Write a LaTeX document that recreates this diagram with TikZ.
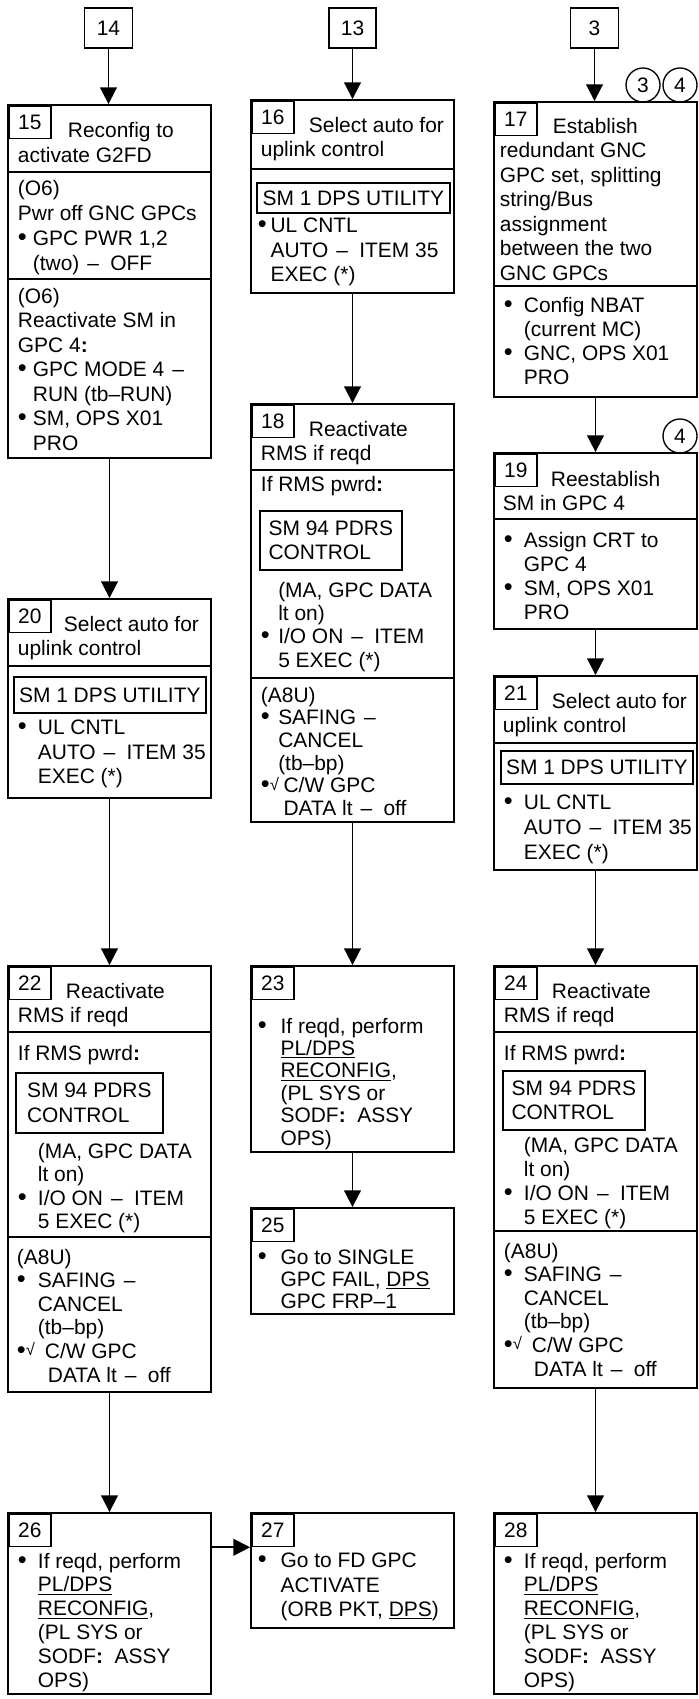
\documentclass[tikz,border=0pt]{standalone}
\usepackage{fontspec}
\setmainfont{Liberation Sans}
\usetikzlibrary{arrows.meta,fit}
\newcommand{\bdot}{{\fontsize{19}{19}\selectfont\textbullet}}
\newcommand{\bl}[1][15pt]{\makebox[#1][l]{\bdot}}
\newcommand{\ind}[1][15pt]{\hspace*{#1}}
\newcommand{\ck}[1][21pt]{\makebox[#1][l]{\bdot\raisebox{2pt}{\fontsize{12.5}{12.5}\selectfont √}}}
\newcommand{\dd}{\hspace{6pt}--\hspace{8.5pt}}
\tikzset{
  box/.style={draw,line width=1.4pt,inner sep=0pt},
  numbox/.style={draw,line width=1.2pt,inner sep=0pt,anchor=north west,minimum width=31.5pt,minimum height=24.5pt},
  scr/.style={draw,line width=1.2pt,inner sep=0pt,anchor=north west,align=left},
  txt/.style={anchor=north west,yshift=12pt,inner sep=0pt,align=left,execute at begin node=\rule{0pt}{12pt}},
  bs/.style={font=\fontsize{15.7}{#1}\selectfont},
  tag/.style={draw,circle,line width=1pt,inner sep=0pt,minimum size=25.5pt},
  flow/.style={line width=1.4pt,-{Triangle[length=12.5pt,width=12.5pt]}},
}

\begin{document}
\begin{tikzpicture}[x=0.75pt,y=-0.75pt,font=\fontsize{15.7}{18.4}\selectfont,line width=1.4pt]
\useasboundingbox (0,0) rectangle (699,1699);
% left column
\node[box,minimum width=36pt,minimum height=30pt] (b14) at (108.5,28) {14};
\node[box,fit={(8,105) (211,458)}] (b15) {};
\node[numbox] (n15) at (8,105) {15};
\node[txt,bs=18.75pt] (h15) at (17,137) {\hspace*{37.5pt}Reconfig to\\activate G2FD};
\foreach \yy in {172,279}{\draw (8,\yy) -- (211,\yy);}
\node[txt,bs=18.75pt] (p15a) at (17,195) {(O6)\\Pwr off GNC GPCs\\\bl[11.25pt]GPC PWR 1,2\\\ind[11.25pt](two)\dd OFF};
\node[txt] (p15b) at (17,303) {(O6)\\Reactivate SM in\\GPC 4\textbf{:}\\\bl[11.25pt]GPC MODE 4\dd\\\ind[11.25pt]RUN (tb--RUN)\\\bl[11.25pt]SM, OPS X01\\\ind[11.25pt]PRO};

\node[box,fit={(8,599) (211,798)}] (b20) {};
\node[numbox] (n20) at (8,599) {20};
\node[txt] (h20) at (17,631) {\hspace*{34.5pt}Select auto for\\uplink control};
\draw (8,666) -- (211,666);
\node[scr,minimum width=144pt,minimum height=27pt] (s20) at (13,676) {SM 1 DPS UTILITY};
\node[txt] (p20) at (17,735) {\bl UL CNTL\\\ind AUTO\dd ITEM 35\\\ind EXEC (*)};

\node[box,fit={(8,966) (211,1392)}] (b22) {};
\node[numbox] (n22) at (8,966) {22};
\node[txt] (h22) at (17,998) {\hspace*{36pt}Reactivate\\RMS if reqd};
\foreach \yy in {1032,1237}{\draw (8,\yy) -- (211,\yy);}
\node[txt] (q22) at (17,1060) {If RMS pwrd\textbf{:}};
\node[scr,minimum width=110.25pt,minimum height=45pt] (s22) at (15,1072) {SM 94 PDRS\\CONTROL};
\node[txt,bs=17.6pt] (p22a) at (17,1158) {\ind(MA, GPC DATA\\\ind lt on)\\\bl I/O ON\dd ITEM\\\ind 5 EXEC (*)};
\node[txt,bs=17.7pt] (p22b) at (16,1264) {(A8U)\\\bl[15.75pt]SAFING\dd\\\ind[15.75pt]CANCEL\\\ind[15.75pt](tb--bp)\\\ck C/W GPC\\\ind[23.25pt]DATA lt\dd off};

\node[box,fit={(8,1513) (211,1694)}] (b26) {};
\node[numbox] (n26) at (8,1513) {26};
\node[txt,bs=17.85pt] (p26) at (17,1568) {\bl If reqd, perform\\\ind\underline{PL/DPS}\\\ind\underline{RECONFIG},\\\ind(PL SYS or\\\ind SODF\textbf{:}\ \ ASSY\\\ind OPS)};

% middle column
\node[box,minimum width=35.25pt,minimum height=30pt] (b13) at (352.5,28) {13};
\node[box,fit={(251,100) (454,293)}] (b16) {};
\node[numbox] (n16) at (251,100) {16};
\node[txt] (h16) at (260,132) {\hspace*{36pt}Select auto for\\uplink control};
\draw (251,169) -- (454,169);
\node[scr,minimum width=144.75pt,minimum height=22.5pt] (s16) at (256,182) {SM 1 DPS UTILITY};
\node[txt] (p16) at (257,233) {\bl[9.5pt]UL CNTL\\\ind[9.5pt]AUTO\dd ITEM 35\\\ind[9.5pt]EXEC (*)};

\node[box,fit={(251,404) (454,822)}] (b18) {};
\node[numbox] (n18) at (251,404) {18};
\node[txt] (h18) at (260,436) {\hspace*{36pt}Reactivate\\RMS if reqd};
\foreach \yy in {470,678}{\draw (251,\yy) -- (454,\yy);}
\node[txt] (q18) at (260,491) {If RMS pwrd\textbf{:}};
\node[scr,minimum width=106.5pt,minimum height=44.25pt] (s18) at (259,510) {SM 94 PDRS\\CONTROL};
\node[txt,bs=17.5pt] (p18a) at (260,597) {\ind[13pt](MA, GPC DATA\\\ind[13pt]lt on)\\\bl[13pt]I/O ON\dd ITEM\\\ind[13pt]5 EXEC (*)};
\node[txt,bs=17pt] (p18b) at (260,702) {(A8U)\\\bl[13pt]SAFING\dd\\\ind[13pt]CANCEL\\\ind[13pt](tb--bp)\\\ck[17pt]C/W GPC\\\ind[17pt]DATA lt\dd off};

\node[box,fit={(251,966) (454,1152)}] (b23) {};
\node[numbox] (n23) at (251,966) {23};
\node[txt,bs=16.8pt] (p23) at (257,1033) {\bl[17pt]If reqd, perform\\\ind[17pt]\underline{PL/DPS}\\\ind[17pt]\underline{RECONFIG},\\\ind[17pt](PL SYS or\\\ind[17pt]SODF\textbf{:}\ \ ASSY\\\ind[17pt]OPS)};

\node[box,fit={(251,1208) (454,1314)}] (b25) {};
\node[numbox] (n25) at (251,1208) {25};
\node[txt,bs=16.5pt] (p25) at (257,1265) {\bl[17pt]Go to SINGLE\\\ind[17pt]GPC FAIL, \underline{DPS}\\\ind[17pt]GPC FRP--1};

\node[box,fit={(251,1513) (454,1628)}] (b27) {};
\node[numbox] (n27) at (251,1513) {27};
\node[txt] (p27) at (257,1568) {\bl[17pt]Go to FD GPC\\\ind[17pt]ACTIVATE\\\ind[17pt](ORB PKT, \underline{DPS})};

% right column
\node[box,minimum width=36pt,minimum height=30pt] (b3) at (594.5,28) {3};
\node[box,fit={(494,102) (697,397)}] (b17) {};
\node[numbox] (n17) at (494,102) {17};
\node[tag] (c3) at (643,85) {3};
\node[tag] (c4) at (680,85) {4};
\node[txt] (h17) at (499,133) {\hspace*{39.75pt}Establish\\redundant GNC\\GPC set, splitting\\string/Bus\\assignment\\between the two\\GNC GPCs};
\draw (494,286) -- (697,286);
\node[txt,bs=18pt] (p17) at (503,312) {\bl Config NBAT\\\ind(current MC)\\\bl GNC, OPS X01\\\ind PRO};

\node[box,fit={(494,453) (697,629)}] (b19) {};
\node[numbox] (n19) at (494,453) {19};
\node[tag] (c4b) at (680,436) {4};
\node[txt] (h19) at (502,486) {\hspace*{36pt}Reestablish\\SM in GPC 4};
\draw (494,519) -- (697,519);
\node[txt,bs=18pt] (p19) at (503,547) {\bl Assign CRT to\\\ind GPC 4\\\bl SM, OPS X01\\\ind PRO};

\node[box,fit={(494,676) (697,870)}] (b21) {};
\node[numbox] (n21) at (494,676) {21};
\node[txt] (h21) at (502,708) {\hspace*{36.75pt}Select auto for\\uplink control};
\draw (494,743) -- (697,743);
\node[scr,minimum width=144pt,minimum height=24.75pt] (s21) at (500,750) {SM 1 DPS UTILITY};
\node[txt,bs=18.75pt] (p21) at (503,810) {\bl UL CNTL\\\ind AUTO\dd ITEM 35\\\ind EXEC (*)};

\node[box,fit={(494,966) (697,1388)}] (b24) {};
\node[numbox] (n24) at (494,966) {24};
\node[txt] (h24) at (503,998) {\hspace*{36pt}Reactivate\\RMS if reqd};
\foreach \yy in {1032,1231}{\draw (494,\yy) -- (697,\yy);}
\node[txt] (q24) at (503,1060) {If RMS pwrd\textbf{:}};
\node[scr,minimum width=106.5pt,minimum height=44.25pt] (s24) at (502,1070) {SM 94 PDRS\\CONTROL};
\node[txt,bs=18.2pt] (p24a) at (503,1152) {\ind(MA, GPC DATA\\\ind lt on)\\\bl I/O ON\dd ITEM\\\ind 5 EXEC (*)};
\node[txt,bs=17.7pt] (p24b) at (503,1258) {(A8U)\\\bl SAFING\dd\\\ind CANCEL\\\ind(tb--bp)\\\ck C/W GPC\\\ind[22.5pt]DATA lt\dd off};

\node[box,fit={(494,1513) (697,1694)}] (b28) {};
\node[numbox] (n28) at (494,1513) {28};
\node[txt,bs=17.85pt] (p28) at (503,1568) {\bl If reqd, perform\\\ind\underline{PL/DPS}\\\ind\underline{RECONFIG},\\\ind(PL SYS or\\\ind SODF\textbf{:}\ \ ASSY\\\ind OPS)};

% connectors
\draw[flow] (b14) -- (b14 |- b15.north);
\draw[flow] (b13) -- (b13 |- b16.north);
\draw[flow] (b3) -- (b3 |- b17.north);
\foreach \a/\b in {b15/b20,b20/b22,b22/b26,b16/b18,b18/b23,b23/b25,b17/b19,b19/b21,b21/b24,b24/b28}
  {\draw[flow] (\a) -- (\b);}
\draw[flow] (b26.east |- n26.south) -- (b27.west |- n26.south);
\end{tikzpicture}
\end{document}
